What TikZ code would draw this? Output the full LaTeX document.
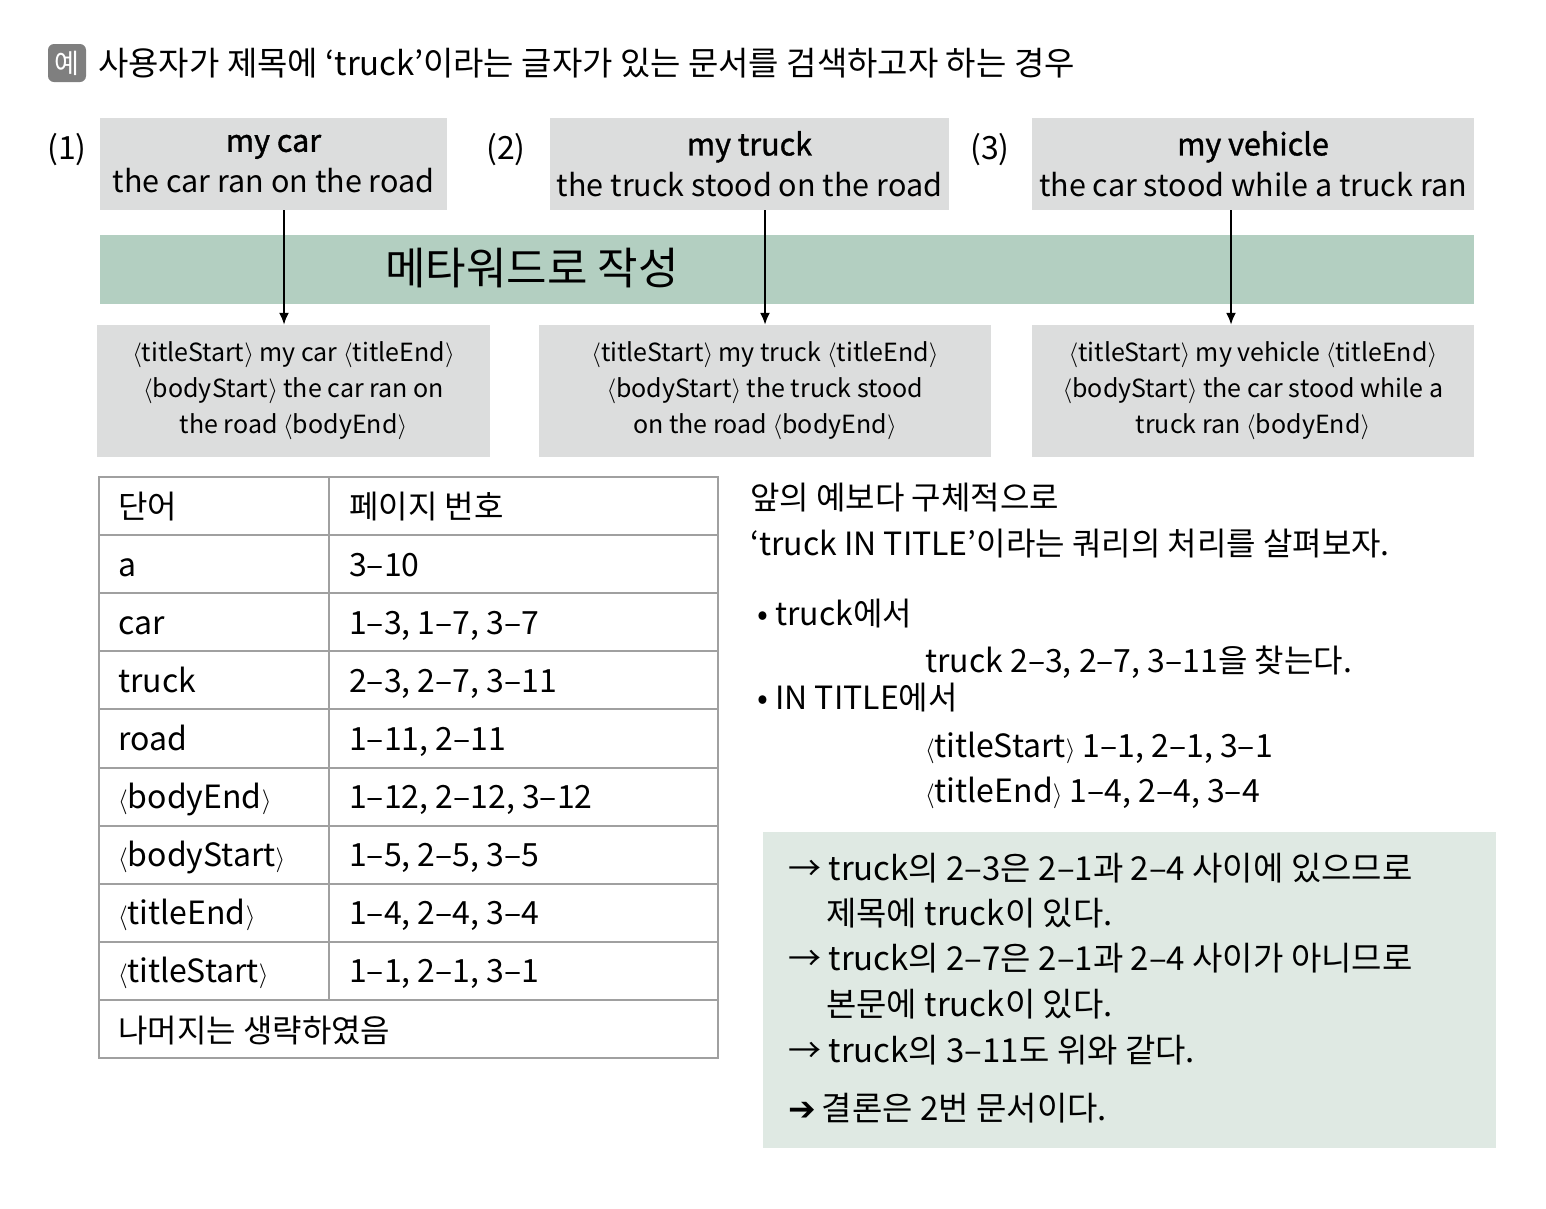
\documentclass[tikz,border=0pt]{standalone}
\usepackage{fontspec}
\setmainfont{Noto Sans CJK KR}
\newfontfamily\symfont{DejaVu Sans}
\newfontfamily\medfont[FakeBold=1.2]{Noto Sans CJK KR}
\usetikzlibrary{arrows.meta,positioning}

\definecolor{boxgray}{HTML}{DCDDDD}
\definecolor{bandgreen}{HTML}{B3CFC1}
\definecolor{notegreen}{HTML}{DFE9E3}
\definecolor{rulegray}{HTML}{A0A0A0}
\definecolor{icongray}{HTML}{7F7F7F}
\newcommand{\tg}[1]{$\langle$#1$\rangle$}

\begin{document}
\begin{tikzpicture}[
        x=1pt, y=-1pt,
        every node/.style={inner sep=0pt, font=\fontsize{32}{41}\selectfont},
        line/.style={anchor=west, text height=28pt, text depth=4pt},
        noteline/.style={line, font=\fontsize{33}{41}\selectfont},
        icon/.style={fill=icongray, rounded corners=6pt, minimum size=38pt, text=white, font=\fontsize{27}{30}\selectfont},
        docbox/.style={fill=boxgray, align=center, minimum height=92pt, font=\fontsize{30.5}{41}\selectfont},
        metabox/.style={fill=boxgray, align=center, minimum height=132pt, font=\fontsize{25}{36}\selectfont},
        arr/.style={->, >={Latex[length=12pt,width=10pt]}, line width=2pt},
        grid/.style={draw=rulegray, line width=2pt}
    ]
    \useasboundingbox (0,0) rectangle (1546,1208);

    % heading
    \node[icon] (ex) at (67,63) {예};
    \node[line, font=\fontsize{33}{41}\selectfont] (title) at (98,63) {사용자가 제목에 ‘truck’이라는 글자가 있는 문서를 검색하고자 하는 경우};

    % documents
    \node (num1) at (67,150) {(1)};
    \node (num2) at (506,150) {(2)};
    \node (num3) at (990,150) {(3)};
    \node[docbox, minimum width=347pt] (doc1) at (273.5,164) {{\medfont my car}\\the car ran on the road};
    \node[docbox, minimum width=399pt] (doc2) at (749.5,164) {{\medfont my truck}\\the truck stood on the road};
    \node[docbox, minimum width=442pt] (doc3) at (1253,164) {{\medfont my vehicle}\\the car stood while a truck ran};

    \node[fill=bandgreen, minimum width=1374pt, minimum height=69pt] (band) at (787,269.5) {};
    \node[font=\fontsize{44}{48}\selectfont] (bandtext) at (532,268) {메타워드로 작성};

    \node[metabox, minimum width=393pt] (meta1) at (293.5,391) {\tg{titleStart} my car \tg{titleEnd}\\\tg{bodyStart} the car ran on\\the road \tg{bodyEnd}};
    \node[metabox, minimum width=452pt] (meta2) at (765,391) {\tg{titleStart} my truck \tg{titleEnd}\\\tg{bodyStart} the truck stood\\on the road \tg{bodyEnd}};
    \node[metabox, minimum width=442pt] (meta3) at (1253,391) {\tg{titleStart} my vehicle \tg{titleEnd}\\\tg{bodyStart} the car stood while a\\truck ran \tg{bodyEnd}};

    \draw[arr] ([xshift=10.5pt]doc1.south) -- ([xshift=10.5pt]doc1.south |- meta1.north);
    \draw[arr] ([xshift=15.5pt]doc2.south) -- ([xshift=15.5pt]doc2.south |- meta2.north);
    \draw[arr] ([xshift=-22pt]doc3.south) -- ([xshift=-22pt]doc3.south |- meta3.north);

    % index table
    \draw[grid] (99,477) rectangle (718,1058);
    \foreach \k in {1,...,9}
        \draw[grid] (99,{477+58.1*\k}) -- (718,{477+58.1*\k});
    \draw[grid] (329,477) -- (329,{477+58.1*9});
    \foreach \w/\p [count=\i] in {단어/페이지 번호, a/3–10, car/{1–3, 1–7, 3–7},
            truck/{2–3, 2–7, 3–11}, road/{1–11, 2–11}, \tg{bodyEnd}/{1–12, 2–12, 3–12},
            \tg{bodyStart}/{1–5, 2–5, 3–5}, \tg{titleEnd}/{1–4, 2–4, 3–4},
            \tg{titleStart}/{1–1, 2–1, 3–1}} {
        \node[line] (w\i) at (118,{477+58.1*\i-29}) {\w};
        \node[line] (p\i) at (349,{477+58.1*\i-29}) {\p};
    }
    \node[line] (rest) at (118,1030) {나머지는 생략하였음};

    % query
    \node[line] (q1) at (750,497) {앞의 예보다 구체적으로};
    \node[line] (q2) at (750,543) {‘truck IN TITLE’이라는 쿼리의 처리를 살펴보자.};
    \node[line] (b1) at (757,613) {• truck에서};
    \node[line] (b1a) at (925,660) {truck 2–3, 2–7, 3–11을 찾는다.};
    \node[line] (b2) at (757,697) {• IN TITLE에서};
    \node[line] (b2a) at (925,745) {\tg{titleStart} 1–1, 2–1, 3–1};
    \node[line] (b2b) at (925,790) {\tg{titleEnd} 1–4, 2–4, 3–4};

    \fill[notegreen] (763,832) rectangle (1496,1148);
    \node[noteline] (r1) at (788,868) {→ truck의 2–3은 2–1과 2–4 사이에 있으므로};
    \node[noteline] (r1b) at (826,913) {제목에 truck이 있다.};
    \node[noteline] (r2) at (788,958) {→ truck의 2–7은 2–1과 2–4 사이가 아니므로};
    \node[noteline] (r2b) at (826,1004) {본문에 truck이 있다.};
    \node[noteline] (r3) at (788,1050) {→ truck의 3–11도 위와 같다.};
    \node[noteline] (res) at (788,1108) {{\symfont ➔}\hspace{6pt}결론은 2번 문서이다.};
\end{tikzpicture}
\end{document}
